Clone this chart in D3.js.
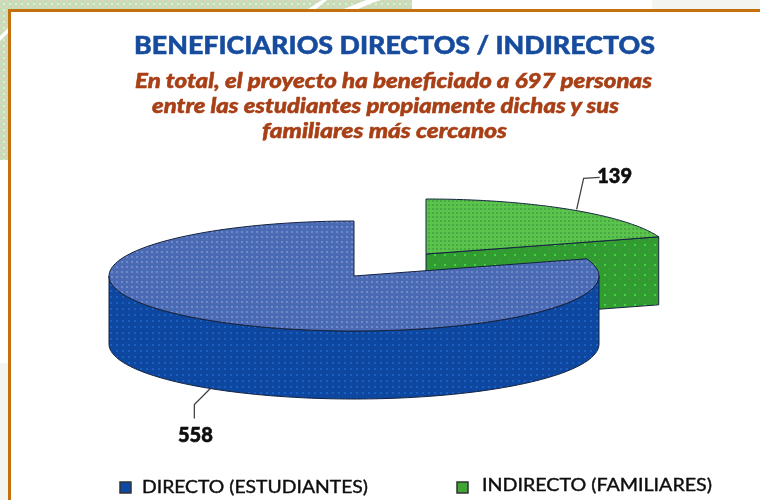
<!DOCTYPE html>
<html>
<head>
<meta charset="utf-8">
<script src="https://cdn.jsdelivr.net/npm/d3@7"></script>
<style>
  html, body { margin: 0; padding: 0; background: #fff; }
  svg { display: block; }
  text { font-family: Lato, "Open Sans", sans-serif; }
</style>
</head>
<body>
<svg id="chart" width="760" height="500"></svg>
<script>
const categories = ["DIRECTO (ESTUDIANTES)", "INDIRECTO (FAMILIARES)"];
const values = [558, 139];
const titleText = "BENEFICIARIOS DIRECTOS / INDIRECTOS";
const subtitleLines = [
  "En total, el proyecto ha beneficiado a 697 personas",
  "entre las estudiantes propiamente dichas y sus",
  "familiares más cercanos"
];

const svg = d3.select("#chart");
const defs = svg.append("defs");

defs.append("filter").attr("id", "soft")
  .attr("x", "-5%").attr("y", "-5%").attr("width", "110%").attr("height", "110%")
  .append("feGaussianBlur").attr("stdDeviation", 0.7);

function dotPattern(id, size, bg, dots) {
  const p = defs.append("pattern").attr("id", id)
    .attr("patternUnits", "userSpaceOnUse")
    .attr("width", size).attr("height", size);
  p.append("rect").attr("width", size).attr("height", size).attr("fill", bg);
  dots.forEach(d => p.append("rect")
    .attr("x", d[0]).attr("y", d[1]).attr("width", d[2]).attr("height", d[2])
    .attr("fill", d[3]));
}

dotPattern("bgDots", 6, "#c6ddb8", [[0, 0, 2, "#e2d2c4"], [3, 3, 2, "#dfeed4"]]);
dotPattern("blueTop", 5, "#4a6bb4", [[1, 1, 2, "#7189c6"], [3, 3, 1, "#6668b4"]]);
dotPattern("blueSide", 6, "#0a469f", [[2, 2, 2, "#1a5ec2"]]);
dotPattern("greenTop", 4, "#5ac44e", [[0, 0, 2, "#49a843"]]);
dotPattern("greenSide", 10, "#319b33", [[4, 4, 2, "#3fd53c"], [9, 9, 1, "#38b838"]]);

// page background behind the panel
const bg = svg.append("g");
bg.append("rect").attr("x", 0).attr("y", 0).attr("width", 412).attr("height", 10).attr("fill", "url(#bgDots)");
bg.append("rect").attr("x", 0).attr("y", 0).attr("width", 9).attr("height", 160).attr("fill", "url(#bgDots)");
bg.append("rect").attr("x", 652).attr("y", 0).attr("width", 108).attr("height", 9).attr("fill", "#f3f6f0");
bg.append("rect").attr("x", 0).attr("y", 363).attr("width", 8).attr("height", 137).attr("fill", "#f3f6f0");
bg.append("path").attr("d", "M308,9 L322,0 L327,0 L316,9 Z M344,9 L366,0 L381,0 L372,3 L358,9 Z M0,36 L8,28 L8,33 L0,41 Z").attr("fill", "#fff");

const panel = svg.append("g").attr("fill", "none").attr("stroke", "#c5700f").attr("stroke-width", 3);
panel.append("path").attr("d", "M9.5,500 V10.5 H760");

// pie geometry
const rx = 245;
const ry = 55;
const depth = 68;
const total = d3.sum(values);
const startAngle = 2 * Math.PI * values[1] / total;
const arcs = d3.pie().sort(null).startAngle(startAngle).endAngle(startAngle + 2 * Math.PI)(values);
const centers = [{x: 354, y: 276}, {x: 426, y: 254}];

const xEllipse = d3.scaleLinear().domain([-1, 1]).range([-rx, rx]);
const yEllipse = d3.scaleLinear().domain([-1, 1]).range([ry, -ry]);

function rim(c, a, drop) {
  return [c.x + xEllipse(Math.sin(a)), c.y + yEllipse(Math.cos(a)) + (drop || 0)];
}

function sweep(c, a0, a1, drop) {
  const n = 90;
  return d3.range(n + 1).map(i => rim(c, a0 + (a1 - a0) * i / n, drop));
}

const line = d3.line();
const pieLayer = svg.append("g").attr("filter", "url(#soft)").attr("stroke", "#16233f").attr("stroke-width", 1);

// exploded slice first, the big slice overlaps it
const g = arcs[1];
const gc = centers[1];
const gEnd = g.endAngle;
const gEndA = rim(gc, gEnd);
pieLayer.append("path")
  .attr("d", line([[gc.x, gc.y], gEndA, [gEndA[0], gEndA[1] + depth], [gc.x, gc.y + depth]]) + "Z")
  .attr("fill", "url(#greenSide)");
pieLayer.append("path")
  .attr("d", line([[gc.x, gc.y], ...sweep(gc, g.startAngle, gEnd)]) + "Z")
  .attr("fill", "url(#greenTop)");

const b = arcs[0];
const bc = centers[0];
pieLayer.append("path")
  .attr("d", line([...sweep(bc, Math.PI / 2, 3 * Math.PI / 2), ...sweep(bc, 3 * Math.PI / 2, Math.PI / 2, depth)]) + "Z")
  .attr("fill", "url(#blueSide)");
pieLayer.append("path")
  .attr("d", line([[bc.x, bc.y], ...sweep(bc, b.startAngle, b.endAngle)]) + "Z")
  .attr("fill", "url(#blueTop)");

// leaders run from the middle of each slice
const leaders = [
  {arc: b, c: bc, drop: depth, bends: [[0, 0], [-16, 16], [-16, 30]], text: [-15, 53]},
  {arc: g, c: gc, drop: 0, bends: [[7, 0], [14, -31], [30, -32]], text: [50, -26]}
];
leaders[1].text[0] = 45;
const textLayer = svg.append("g").attr("filter", "url(#soft)");
leaders.forEach((l, i) => {
  const mid = (l.arc.startAngle + l.arc.endAngle) / 2;
  const p = rim(l.c, mid, l.drop);
  textLayer.append("path")
    .attr("d", line(l.bends.map(d => [p[0] + d[0], p[1] + d[1]])))
    .attr("fill", "none").attr("stroke", "#444").attr("stroke-width", 1.3);
  textLayer.append("text")
    .attr("x", p[0] + l.text[0]).attr("y", p[1] + l.text[1])
    .attr("text-anchor", "middle")
    .attr("font-size", 20).attr("font-weight", 900).attr("fill", "#111")
    .attr("stroke", "#111").attr("stroke-width", 0.6)
    .text(values[i]);
});

textLayer.append("text")
  .attr("x", 394.5).attr("y", 54)
  .attr("text-anchor", "middle")
  .attr("textLength", 521).attr("lengthAdjust", "spacingAndGlyphs")
  .attr("font-size", 25).attr("font-weight", 900).attr("fill", "#164c9e")
  .attr("stroke", "#164c9e").attr("stroke-width", 0.5)
  .text(titleText);

const subX = [393.5, 385.5, 384.5];
const subY = [88, 113, 138];
const subW = [517, 467, 245];
textLayer.selectAll(".sub").data(subtitleLines).join("text")
  .attr("class", "sub")
  .attr("x", (d, i) => subX[i]).attr("y", (d, i) => subY[i])
  .attr("text-anchor", "middle")
  .attr("textLength", (d, i) => subW[i]).attr("lengthAdjust", "spacingAndGlyphs")
  .attr("font-size", 21).attr("font-weight", 900).attr("font-style", "italic").attr("fill", "#a83f16")
  .attr("stroke", "#a83f16").attr("stroke-width", 0.5)
  .text(d => d);

// legend
const legendX = [120, 457];
const legendTextX = [142, 482];
const legendTextW = [226, 230];
const legendY = [493, 491];
const legendColors = ["#0f4aa6", "#3fa535"];
const legend = textLayer.selectAll(".legend").data(categories).join("g").attr("class", "legend");
legend.append("rect")
  .attr("x", (d, i) => legendX[i]).attr("y", 482)
  .attr("width", 11).attr("height", 11)
  .attr("fill", (d, i) => legendColors[i]).attr("stroke", "#333").attr("stroke-width", 1.5);
legend.append("text")
  .attr("x", (d, i) => legendTextX[i]).attr("y", (d, i) => legendY[i])
  .attr("textLength", (d, i) => legendTextW[i]).attr("lengthAdjust", "spacingAndGlyphs")
  .attr("font-size", 17).attr("font-weight", 400).attr("fill", "#111")
  .attr("stroke", "#111").attr("stroke-width", 0.4)
  .text(d => d);
</script>
</body>
</html>
